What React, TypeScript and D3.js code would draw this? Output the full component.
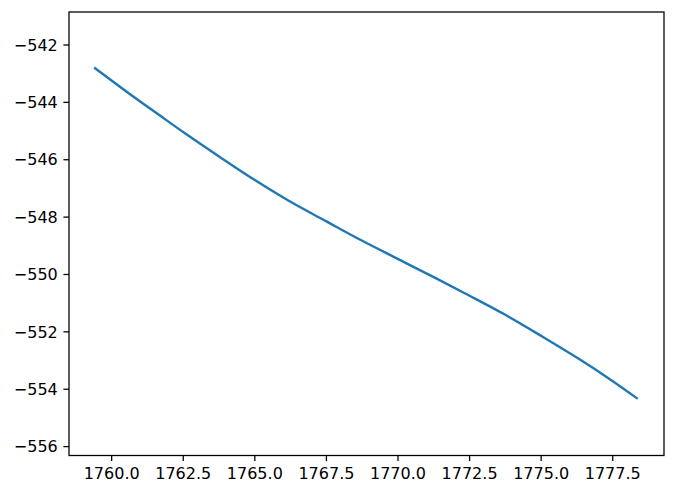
import React from "react";
import * as d3 from "d3";

const xValues = [1759.42, 1760.5, 1761.7, 1762.56, 1763.8, 1765.0, 1766.2, 1767.5, 1768.7, 1770.06, 1771.3, 1772.5, 1773.7, 1775.05, 1776.3, 1777.4, 1778.34];
const yValues = [-542.81, -543.61, -544.47, -545.08, -545.92, -546.71, -547.44, -548.15, -548.8, -549.49, -550.12, -550.74, -551.38, -552.17, -552.93, -553.65, -554.31];
const xTicks = [1760.0, 1762.5, 1765.0, 1767.5, 1770.0, 1772.5, 1775.0, 1777.5];
const yTicks = [-556, -554, -552, -550, -548, -546, -544, -542];

const W = 676;
const H = 497;
const left = 69;
const right = 664;
const top = 12;
const bottom = 455.5;
const font = "DejaVu Sans";
const fontSize = 16;
const tickLen = 5.6;
const pad = 5.6;

export default function App() {
  const x = d3.scaleLinear().domain([1758.51, 1779.29]).range([left, right]);
  const y = d3.scaleLinear().domain([-556.31, -540.85]).range([bottom, top]);
  const pts = xValues.map((v, i) => [v, yValues[i]] as [number, number]);
  const line = d3
    .line<[number, number]>()
    .x((d) => x(d[0]))
    .y((d) => y(d[1]))
    .curve(d3.curveMonotoneX)(pts);
  const fmtX = (v: number) => v.toFixed(1);
  const fmtY = (v: number) => (v < 0 ? "\u2212" + Math.abs(v) : String(v));
  return (
    <svg width={W} height={H} style={{ position: "absolute", left: 0, top: 0, background: "#fff" }}>
      <rect x={0} y={0} width={W} height={H} fill="#fff" />
      <defs>
        <clipPath id="clip">
          <rect x={left} y={top} width={right - left} height={bottom - top} />
        </clipPath>
      </defs>
      <path d={line || ""} fill="none" stroke="#1f77b4" strokeWidth={2.4} strokeLinecap="square" clipPath="url(#clip)" />
      <rect x={left} y={top} width={right - left} height={bottom - top} fill="none" stroke="#000" strokeWidth={1.28} />
      {xTicks.map((t) => (
        <g key={"x" + t}>
          <line x1={x(t)} x2={x(t)} y1={bottom} y2={bottom + tickLen} stroke="#000" strokeWidth={1.28} />
          <text x={x(t)} y={bottom + tickLen + pad} dy="0.76em" textAnchor="middle" fontFamily={font} fontSize={fontSize} fill="#000">
            {fmtX(t)}
          </text>
        </g>
      ))}
      {yTicks.map((t) => (
        <g key={"y" + t}>
          <line x1={left - tickLen} x2={left} y1={y(t)} y2={y(t)} stroke="#000" strokeWidth={1.28} />
          <text x={left - tickLen - pad} y={y(t)} dy="0.36em" textAnchor="end" fontFamily={font} fontSize={fontSize} fill="#000">
            {fmtY(t)}
          </text>
        </g>
      ))}
    </svg>
  );
}
